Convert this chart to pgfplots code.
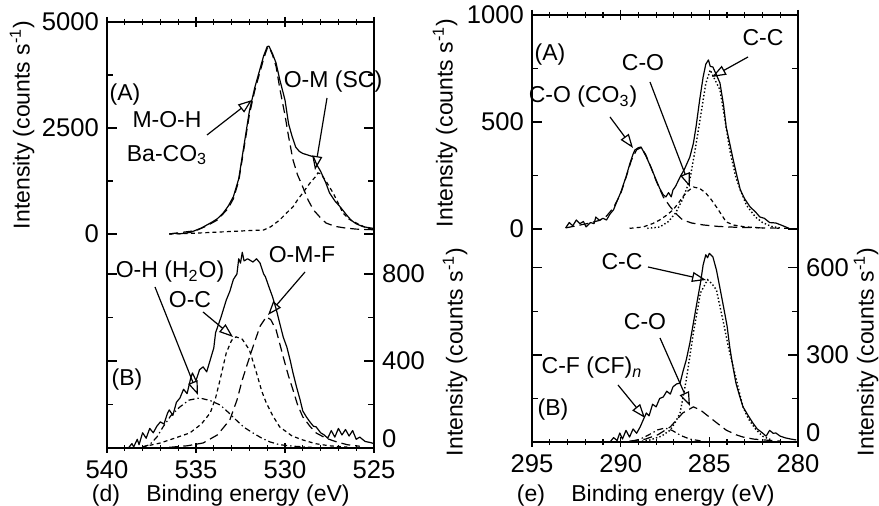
\documentclass[border=0pt]{standalone}
\usepackage{fontspec}
\setmainfont{Liberation Sans}
\usepackage{pgfplots}
\pgfplotsset{compat=1.18}
\usetikzlibrary{arrows.meta}
\pgfplotsset{
  panel/.style={
    scale only axis, x dir=reverse,
    axis y line=box,
    tick align=inside,
    major tick length=5pt, minor tick length=3pt,
    every tick/.style={black, line width=0.6pt},
    /pgf/number format/assume math mode=true,
    tick label style={font=\fontsize{12.8}{14}\selectfont},
    clip=false,
  },
  noarrows/.style={axis line style={-, line width=0.7pt}, x axis line style={-}, y axis line style={-},
    every outer x axis line/.append style={-}, every outer y axis line/.append style={-}},
  spec/.style={black, line width=0.6pt, line join=round, mark=none},
  ldash/.style={black, line width=0.6pt, mark=none, dash pattern=on 4.5pt off 2.5pt},
  sdash/.style={black, line width=0.6pt, mark=none, dash pattern=on 2pt off 1.6pt},
  dotl/.style={black, line width=0.7pt, mark=none, dash pattern=on 0.7pt off 1.1pt},
  ddot/.style={black, line width=0.6pt, mark=none, dash pattern=on 3pt off 1.5pt on 0.7pt off 1.5pt},
}
\begin{document}
\fontsize{11.5}{13.8}\selectfont
\begin{tikzpicture}
\useasboundingbox (0,0) rectangle (439.5pt,253pt);
% ---------------- (d) top: (A)
\begin{axis}[panel, at={(53.5pt,136pt)}, anchor=south west, width=133.5pt, height=106pt,
  axis x line=top, noarrows, xmin=525, xmax=540, ymin=0, ymax=5000,
  xtick={525,530,535,540}, minor xtick={526,527,528,529,531,532,533,534,536,537,538,539}, xticklabels={},
  ytick={0,2500,5000}, yticklabels={0,2500,5000}, minor ytick={1250,3750},
  yticklabel pos=left]
\addplot[spec] coordinates {(536.5,0) (536.2,15) (535.9,5) (535.6,20) (535.3,40) (535.0,90) (534.7,140) (534.4,210) (534.1,280) (533.8,360) (533.5,480) (533.2,650) (532.9,880) (532.6,1300) (532.3,2100) (532.0,2900) (531.7,3450) (531.4,3900) (531.2,4200) (531.0,4420) (530.9,4430) (530.7,4250) (530.5,4030) (530.3,3650) (530.0,3160) (529.8,2600) (529.6,2300) (529.4,2050) (529.2,1950) (529.0,1900) (528.7,1860) (528.4,1820) (528.2,1620) (528.0,1480) (527.7,1200) (527.5,970) (527.2,780) (526.9,640) (526.6,480) (526.3,330) (526.0,240) (525.6,170) (525.3,150) (525.0,130)};
\addplot[ldash] coordinates {(536.5,0) (535.0,80) (534.4,190) (533.8,330) (533.2,600) (532.9,830) (532.6,1250) (532.3,2030) (532.0,2820) (531.7,3380) (531.4,3830) (531.2,4130) (531.0,4380) (530.9,4420) (530.7,4220) (530.5,3950) (530.3,3450) (530.0,2800) (529.8,2300) (529.55,1745) (529.3,1400) (529.0,1108) (528.7,800) (528.4,566) (528.0,380) (527.7,260) (527.2,180) (526.6,140) (526.0,115) (525.0,100)};
\addplot[sdash] coordinates {(536.5,0) (535.0,20) (534.0,40) (533.0,60) (532.0,80) (531.2,94) (530.8,170) (530.3,330) (529.9,500) (529.55,640) (529.3,800) (529.0,970) (528.6,1200) (528.3,1345) (528.15,1440) (528.0,1420) (527.7,1250) (527.3,970) (527.0,720) (526.75,500) (526.4,350) (526.0,260) (525.5,160) (525.0,100)};
\end{axis}
% ---------------- (d) bottom: (B)
\begin{axis}[panel, at={(53.5pt,29pt)}, anchor=south west, width=133.5pt, height=107pt,
  axis x line=bottom, noarrows, xmin=525, xmax=540, ymin=0, ymax=984,
  xtick={525,530,535,540}, minor xtick={526,527,528,529,531,532,533,534,536,537,538,539},
  ytick={0,400,800}, yticklabels={\raisebox{0pt}[0pt][0pt]{0},400,800}, minor ytick={200,600},
  yticklabel pos=right]
\addplot[spec] coordinates {(538.8,0) (538.6,20) (538.5,5) (538.3,40) (538.2,15) (538.0,70) (537.8,45) (537.6,90) (537.4,70) (537.2,100) (537.0,120) (536.8,110) (536.6,160) (536.5,175) (536.3,150) (536.1,210) (535.9,230) (535.7,270) (535.5,250) (535.3,320) (535.2,345) (535.0,310) (534.8,360) (534.6,373) (534.4,350) (534.2,405) (534.0,460) (533.9,530) (533.6,600) (533.3,680) (533.1,720) (532.9,775) (532.7,800) (532.6,870) (532.5,850) (532.4,900) (532.3,860) (532.1,870) (532.0,865) (531.8,855) (531.6,870) (531.4,850) (531.2,800) (531.1,787) (530.9,740) (530.7,695) (530.5,640) (530.3,575) (530.1,510) (529.9,465) (529.7,400) (529.55,345) (529.35,280) (529.15,221) (529.0,170) (528.8,143) (528.6,120) (528.4,100) (528.25,97) (528.0,70) (527.8,60) (527.6,45) (527.4,80) (527.2,50) (527.0,90) (526.8,60) (526.6,85) (526.4,55) (526.2,80) (526.0,40) (525.8,50) (525.5,30) (525.2,25) (525.0,20)};
\addplot[ddot] coordinates {(538.0,5) (537.6,15) (537.2,50) (536.85,97) (536.4,150) (535.9,189) (535.4,220) (534.8,230) (534.2,218) (533.65,198) (533.2,165) (532.75,129) (532.3,95) (531.8,69) (531.3,45) (530.85,28) (530.3,15) (529.5,8) (528.5,3)};
\addplot[sdash] coordinates {(538.0,5) (537.0,23) (536.2,45) (535.35,69) (534.7,110) (534.2,161) (533.9,230) (533.65,313) (533.3,437) (533.0,495) (532.75,511) (532.4,500) (532.0,451) (531.6,345) (531.3,260) (531.05,207) (530.7,150) (530.3,97) (529.6,55) (529.0,37) (528.3,20) (527.5,10) (526.5,4)};
\addplot[ldash] coordinates {(536.5,3) (535.5,10) (534.6,23) (533.8,60) (533.1,129) (532.7,220) (532.4,313) (532.1,390) (531.8,465) (531.4,560) (531.05,603) (530.8,590) (530.5,543) (530.1,419) (529.8,330) (529.55,267) (529.3,200) (529.0,143) (528.6,100) (528.25,69) (527.7,45) (527.1,28) (526.5,15) (525.8,8)};
\end{axis}
% ---------------- (e) top: (A)
\begin{axis}[panel, at={(266pt,138.5pt)}, anchor=south west, width=133pt, height=107pt,
  axis x line=top, noarrows, xmin=280, xmax=295, ymin=0, ymax=1000,
  xtick={280,285,290,295}, minor xtick={281,282,283,284,286,287,288,289,291,292,293,294}, xticklabels={},
  ytick={0,500,1000}, yticklabels={0,500,1000}, minor ytick={250,750},
  yticklabel pos=left]
\addplot[spec] coordinates {(293.1,5) (292.9,30) (292.7,15) (292.5,42) (292.3,25) (292.1,35) (291.95,10) (291.7,30) (291.5,25) (291.4,56) (291.2,40) (291.0,50) (290.8,42) (290.6,70) (290.4,90) (290.25,121) (290.0,170) (289.7,243) (289.5,300) (289.3,350) (289.2,369) (289.0,380) (288.85,383) (288.7,360) (288.55,336) (288.3,290) (288.0,229) (287.8,190) (287.6,160) (287.45,150) (287.3,170) (287.15,150) (287.05,182) (286.9,200) (286.65,243) (286.4,280) (286.1,336) (285.9,400) (285.75,477) (285.55,600) (285.35,710) (285.2,770) (285.05,790) (284.95,760) (284.8,757) (284.6,720) (284.4,682) (284.2,580) (284.05,477) (283.85,400) (283.65,322) (283.45,250) (283.25,182) (283.0,140) (282.7,103) (282.4,80) (282.15,56) (281.9,50) (281.6,30) (281.25,28) (281.0,20) (280.7,10) (280.45,0)};
\addplot[ldash] coordinates {(293.1,5) (292.5,15) (291.9,25) (291.2,40) (290.8,60) (290.4,100) (290.0,165) (289.7,240) (289.4,320) (289.1,370) (288.85,380) (288.6,350) (288.3,290) (288.0,225) (287.6,150) (287.2,103) (286.8,65) (286.5,42) (286.0,28) (285.35,19) (284.5,12) (283.5,8) (282.0,5) (280.5,3)};
\addplot[sdash] coordinates {(289.5,3) (288.75,9) (288.2,25) (287.8,42) (287.4,65) (287.05,89) (286.75,120) (286.5,150) (286.2,178) (285.9,196) (285.55,190) (285.2,168) (284.9,138) (284.6,103) (284.3,65) (284.05,33) (283.6,18) (283.0,10) (282.0,5)};
\addplot[dotl] coordinates {(288.5,3) (287.8,9) (287.3,35) (286.9,75) (286.5,140) (286.1,229) (285.8,370) (285.5,523) (285.2,680) (284.95,743) (284.7,700) (284.4,650) (284.1,500) (283.85,369) (283.5,240) (283.25,182) (282.9,110) (282.4,56) (282.0,30) (281.5,12) (281.0,5)};
\end{axis}
% ---------------- (e) bottom: (B)
\begin{axis}[panel, at={(266pt,32pt)}, anchor=south west, width=133pt, height=106.5pt,
  axis x line=bottom, noarrows, xmin=280, xmax=295, ymin=0, ymax=734,
  xtick={280,285,290,295}, minor xtick={281,282,283,284,286,287,288,289,291,292,293,294},
  ytick={0,300,600}, yticklabels={\raisebox{0pt}[0pt][0pt]{0},300,600}, minor ytick={150,450},
  yticklabel pos=right]
\addplot[spec] coordinates {(290.6,0) (290.4,15) (290.2,5) (290.05,31) (289.9,10) (289.7,40) (289.5,17) (289.3,45) (289.1,30) (288.9,52) (288.7,80) (288.55,100) (288.4,90) (288.2,130) (288.0,121) (287.8,150) (287.6,155) (287.4,175) (287.2,165) (287.05,190) (286.85,200) (286.65,203) (286.5,240) (286.3,283) (286.1,340) (285.9,410) (285.7,480) (285.5,548) (285.35,610) (285.2,645) (285.1,635) (285.0,650) (284.8,638) (284.6,593) (284.4,530) (284.2,466) (284.0,400) (283.85,328) (283.7,270) (283.5,203) (283.3,160) (283.1,121) (282.8,90) (282.55,66) (282.3,45) (282.0,31) (281.8,20) (281.6,40) (281.4,30) (281.25,31) (281.0,20) (280.7,14) (280.4,10) (280.1,7)};
\addplot[dotl] coordinates {(288.8,3) (288.35,7) (287.7,20) (287.2,41) (286.9,70) (286.65,100) (286.3,214) (285.9,376) (285.5,514) (285.1,559) (284.85,545) (284.6,524) (284.2,410) (283.9,320) (283.65,259) (283.3,170) (283.1,121) (282.8,80) (282.4,45) (282.0,20) (281.5,7)};
\addplot[ldash] coordinates {(289.5,3) (288.6,10) (287.9,25) (287.2,52) (286.5,100) (285.9,121) (285.5,110) (285.0,86) (284.5,62) (284.05,41) (283.5,25) (283.1,17) (282.5,10) (281.5,5) (281.0,3)};
\addplot[ddot] coordinates {(289.3,3) (288.9,10) (288.4,25) (287.9,42) (287.5,48) (287.1,40) (286.6,22) (286.1,10) (285.5,4)};
\end{axis}
% ---------------- annotations (pixel coordinates of the reference)
\begin{scope}[x=0.5pt, y=-0.5pt, shift={(0,253pt)},
  ann/.style={-{Triangle[open,length=7pt,width=5pt]}, line width=0.6pt}]
\node[rotate=90] at (22,125) {Intensity (counts s\textsuperscript{-1})};
\node[rotate=90, inner sep=0pt] at (455,352) {Intensity (counts s\textsuperscript{-1})};
\node[rotate=90, inner sep=0pt] at (445,123) {Intensity (counts s\textsuperscript{-1})};
\node[rotate=90, inner sep=0pt] at (866,352) {Intensity (counts s\textsuperscript{-1})};
\node[inner ysep=1pt] at (106,496) {(d)};
\node[inner ysep=1pt] at (248,496) {Binding energy (eV)};
\node[inner ysep=1pt] at (531,496) {(e)};
\node[inner ysep=1pt] at (673,496) {Binding energy (eV)};
% (d) A
\node at (125,95) {(A)};
\node at (167,120) {M-O-H};
\node at (167,155) {Ba-CO\textsubscript{3}};
\draw[ann] (207,135) -- (252,100);
\node at (333,82) {O-M (SC)};
\draw[ann] (327,98) -- (315,170);
% (d) B
\node at (170,272) {O-H (H\textsubscript{2}O)};
\draw[ann] (155,287) -- (198,395);
\node at (190,300) {O-C};
\draw[ann] (203,312) -- (233,337);
\node at (302,255) {O-M-F};
\draw[ann] (305,272) -- (268,315);
\node at (127,380) {(B)};
% (e) A
\node at (550,55) {(A)};
\node at (763,38) {C-C};
\draw[ann] (748,57) -- (712,77);
\node at (643,63) {C-O};
\draw[ann] (650,82) -- (690,187);
\node at (583,97) {C-O (CO\textsubscript{3})};
\draw[ann] (610,117) -- (633,148);
% (e) B
\node at (622,262) {C-C};
\draw[ann] (648,267) -- (706,280);
\node at (645,322) {C-O};
\draw[ann] (660,338) -- (690,406);
\node at (592,368) {C-F (CF)\textsubscript{\textit{n}}};
\draw[ann] (618,385) -- (645,418);
\node at (553,410) {(B)};
\end{scope}
\end{tikzpicture}
\end{document}
